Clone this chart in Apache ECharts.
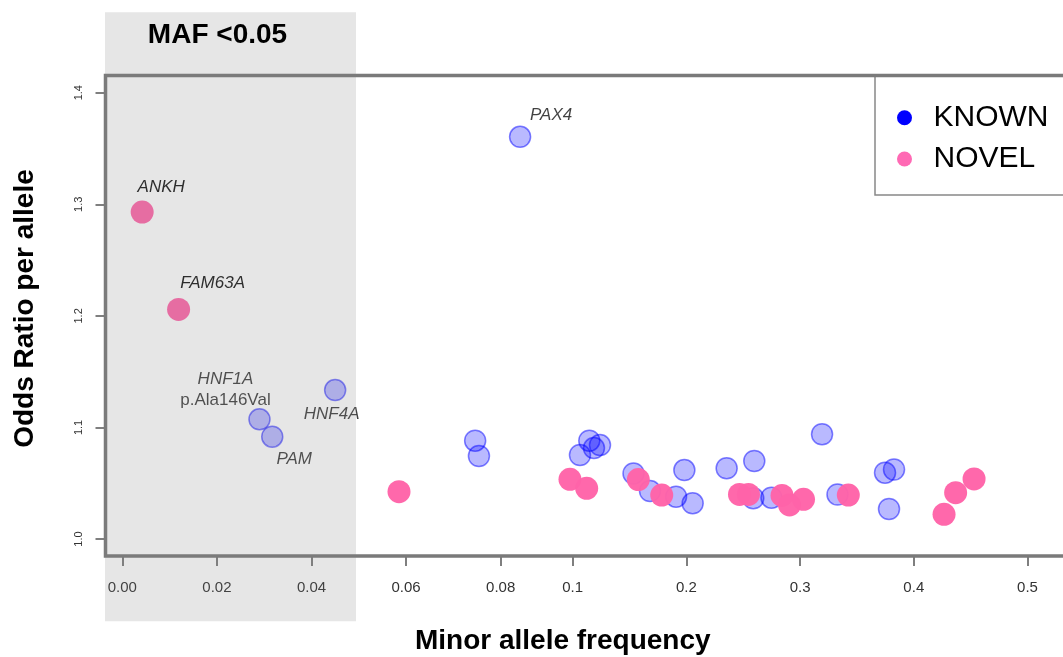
<!DOCTYPE html>
<html>
<head>
<meta charset="utf-8">
<script src="https://cdn.jsdelivr.net/npm/echarts@6/dist/echarts.min.js"></script>
<style>
  html, body { margin: 0; padding: 0; background: #fff; }
  #c { width: 1063px; height: 657px; }
</style>
</head>
<body>
<div id="c"></div>
<script>
// ---------------- DATA ----------------
const knownMAF  = [0.0841, 0.0450, 0.0290, 0.0317, 0.0746, 0.0754, 0.1064, 0.1146, 0.1187, 0.1240,
                   0.1535, 0.1680, 0.1909, 0.2055, 0.1982, 0.2354, 0.2597, 0.2588, 0.2748, 0.3193,
                   0.3329, 0.3747, 0.3826, 0.3782];
const knownOR   = [1.3605, 1.1335, 1.1073, 1.0917, 1.0881, 1.0744, 1.0753, 1.0881, 1.0815, 1.0842,
                   1.0587, 1.0430, 1.0379, 1.0320, 1.0618, 1.0634, 1.0699, 1.0365, 1.0370, 1.0939,
                   1.0399, 1.0594, 1.0623, 1.0269];
const knownGene = ['PAX4', 'HNF4A', 'HNF1A', 'PAM', '', '', '', '', '', '',
                   '', '', '', '', '', '', '', '', '', '',
                   '', '', '', ''];

const novelMAF  = [0.0042, 0.0119, 0.0585, 0.0976, 0.1123, 0.1577, 0.1783, 0.2467, 0.2546, 0.2841,
                   0.2907, 0.3030, 0.3424, 0.4266, 0.4368, 0.4530];
const novelOR   = [1.2930, 1.2058, 1.0424, 1.0535, 1.0454, 1.0533, 1.0394, 1.0399, 1.0399, 1.0390,
                   1.0305, 1.0356, 1.0394, 1.0221, 1.0415, 1.0538];
const novelGene = ['ANKH', 'FAM63A', '', '', '', '', '', '', '', '',
                   '', '', '', '', '', ''];

const xTicksLow  = [0, 0.02, 0.04, 0.06, 0.08];
const xTicksHigh = [0.1, 0.2, 0.3, 0.4, 0.5];
const yTicks     = [1.0, 1.1, 1.2, 1.3, 1.4];
const seriesNames = ['KNOWN', 'NOVEL'];
const BREAK_MAF = 0.09;   // low-frequency panel holds MAF below this

// ---------------- LAYOUT / STYLE ----------------
const FONT = '"Liberation Sans", Arial, Helvetica, sans-serif';
const F_LEFT = 105.5, F_TOP = 75.5, F_BOTTOM = 556, SPLIT = 545, F_RIGHT = 1100;
const LOW_PX_PER = 4730, LOW_ZERO_PX = 122.3;       // px per MAF unit, px of 0.00
const HIGH_PX_PER = 1137, HIGH_01_PX = 572.7;        // px per MAF unit, px of 0.1
const Y_PX_PER = 1115.75, Y_ONE_PX = 539;            // px per OR unit, px of 1.0

const lowMin = (F_LEFT - LOW_ZERO_PX) / LOW_PX_PER;
const lowMax = (SPLIT - LOW_ZERO_PX) / LOW_PX_PER;
const highMin = 0.1 - (HIGH_01_PX - SPLIT) / HIGH_PX_PER;
const highMax = highMin + (F_RIGHT - SPLIT) / HIGH_PX_PER;
const yMin = 1 - (F_BOTTOM - Y_ONE_PX) / Y_PX_PER;
const yMax = 1 + (Y_ONE_PX - F_TOP) / Y_PX_PER;

const BLUE_FILL = 'rgba(0,0,255,0.34)';
const BLUE_EDGE = 'rgba(0,0,255,0.62)';
const PINK = '#ff63a8';

const labelBase = { show: true, position: 'inside', fontFamily: FONT, fontSize: 17,
                    fontStyle: 'italic', color: '#111' };
const LABEL_STYLE = {
  PAX4:   { offset: [31, -22] },
  ANKH:   { offset: [19, -25] },
  FAM63A: { offset: [34, -26] },
  HNF4A:  { offset: [-3.5, 24] },
  PAM:    { offset: [22, 22.5] },
  HNF1A:  { offset: [-34, -29.5], fontStyle: 'normal',
            formatter: '{g|HNF1A}\n{v|p.Ala146Val}',
            rich: { g: { fontFamily: FONT, fontSize: 17, fontStyle: 'italic', color: '#111', lineHeight: 22 },
                    v: { fontFamily: FONT, fontSize: 17, fontStyle: 'normal', color: '#111', lineHeight: 22 } } }
};

function buildData(mafs, ors, genes, low) {
  const out = [];
  mafs.forEach((m, i) => {
    if ((m < BREAK_MAF) !== low) return;
    const item = { value: [m, ors[i]], name: genes[i] };
    if (genes[i]) {
      item.label = Object.assign({}, labelBase, { formatter: genes[i] }, LABEL_STYLE[genes[i]] || {});
    }
    out.push(item);
  });
  return out;
}

function knownSeries(low) {
  return {
    name: seriesNames[0], type: 'scatter', xAxisIndex: low ? 0 : 1, yAxisIndex: low ? 0 : 1,
    symbol: 'circle', symbolSize: 21,
    itemStyle: { color: BLUE_FILL, borderColor: BLUE_EDGE, borderWidth: 1.5 },
    label: { show: false }, emphasis: { disabled: true }, z: 3,
    data: buildData(knownMAF, knownOR, knownGene, low)
  };
}
function novelSeries(low) {
  return {
    name: seriesNames[1], type: 'scatter', xAxisIndex: low ? 0 : 1, yAxisIndex: low ? 0 : 1,
    symbol: 'circle', symbolSize: 23,
    itemStyle: { color: PINK, opacity: 0.97 },
    label: { show: false }, emphasis: { disabled: true }, z: 4,
    data: buildData(novelMAF, novelOR, novelGene, low)
  };
}

const tickStyle = { show: true, inside: false, length: 10, lineStyle: { color: '#555', width: 1.5 } };

const chart = echarts.init(document.getElementById('c'), null, { renderer: 'canvas' });
chart.setOption({
  animation: false,
  backgroundColor: '#fff',
  grid: [
    { left: F_LEFT, top: F_TOP, width: SPLIT - F_LEFT, height: F_BOTTOM - F_TOP,
      containLabel: false, outerBoundsMode: 'none' },
    { left: SPLIT, top: F_TOP, width: F_RIGHT - SPLIT, height: F_BOTTOM - F_TOP,
      containLabel: false, outerBoundsMode: 'none' }
  ],
  xAxis: [
    { type: 'value', gridIndex: 0, min: lowMin, max: lowMax,
      axisLine: { show: false, onZero: false }, splitLine: { show: false },
      axisTick: Object.assign({ customValues: xTicksLow }, tickStyle),
      axisLabel: { customValues: xTicksLow, margin: 24, fontFamily: FONT, fontSize: 15, color: '#333',
                   formatter: v => v.toFixed(2) } },
    { type: 'value', gridIndex: 1, min: highMin, max: highMax,
      axisLine: { show: false, onZero: false }, splitLine: { show: false },
      axisTick: Object.assign({ customValues: xTicksHigh }, tickStyle),
      axisLabel: { customValues: xTicksHigh, margin: 24, fontFamily: FONT, fontSize: 15, color: '#333',
                   formatter: v => v.toFixed(1) } }
  ],
  yAxis: [
    { type: 'value', gridIndex: 0, min: yMin, max: yMax,
      axisLine: { show: false, onZero: false }, splitLine: { show: false },
      axisTick: Object.assign({ customValues: yTicks }, tickStyle),
      axisLabel: { customValues: yTicks, rotate: 90, margin: 21, fontFamily: FONT, fontSize: 11, color: '#333',
                   formatter: v => v.toFixed(1) } },
    { type: 'value', gridIndex: 1, min: yMin, max: yMax, show: false,
      axisLine: { onZero: false }, splitLine: { show: false } }
  ],
  legend: {
    orient: 'vertical', left: 875, top: 75, icon: 'circle',
    itemWidth: 48, itemHeight: 15, itemGap: 11.3,
    padding: [27.7, 60, 21, 22],
    backgroundColor: '#fff', borderColor: '#888', borderWidth: 1.5, borderRadius: 0,
    selectedMode: false,
    textStyle: { fontFamily: FONT, fontSize: 30, color: '#000', lineHeight: 30 },
    itemStyle: { borderWidth: 0, opacity: 1 },
    data: [
      { name: seriesNames[0], itemStyle: { color: '#0000ff', borderWidth: 0, opacity: 1 } },
      { name: seriesNames[1], itemStyle: { color: '#ff69b4', borderWidth: 0, opacity: 1 } }
    ],
    z: 20
  },
  graphic: [
    { type: 'rect', silent: true, z: 50,
      shape: { x: F_LEFT, y: F_TOP, width: F_RIGHT - F_LEFT, height: F_BOTTOM - F_TOP },
      style: { fill: null, stroke: '#7a7a7a', lineWidth: 3.5 } },
    { type: 'rect', silent: true, z: 100,
      shape: { x: 105, y: 12.3, width: 251, height: 609 },
      style: { fill: 'rgba(128,128,128,0.2)' } },
    { type: 'text', silent: true, z: 110, x: 217.5, y: 35.5,
      style: { text: 'MAF <0.05', fontFamily: FONT, fontSize: 28, fontWeight: 'bold', fill: '#000',
               align: 'center', verticalAlign: 'middle' } },
    { type: 'text', silent: true, z: 110, x: 562.8, y: 641,
      style: { text: 'Minor allele frequency', fontFamily: FONT, fontSize: 28, fontWeight: 'bold', fill: '#000',
               align: 'center', verticalAlign: 'middle' } },
    { type: 'text', silent: true, z: 110, x: 25.5, y: 308.5, rotation: Math.PI / 2,
      style: { text: 'Odds Ratio per allele', fontFamily: FONT, fontSize: 28, fontWeight: 'bold', fill: '#000',
               align: 'center', verticalAlign: 'middle' } }
  ],
  series: [ knownSeries(true), knownSeries(false), novelSeries(true), novelSeries(false) ]
});
</script>
</body>
</html>
